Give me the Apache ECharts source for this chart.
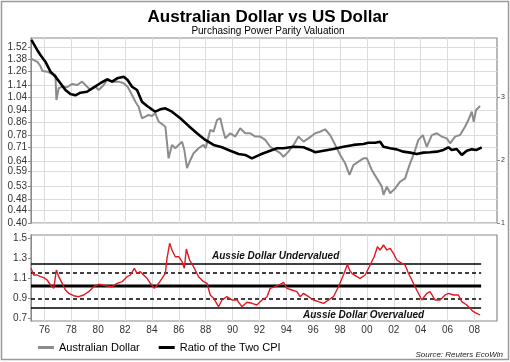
<!DOCTYPE html>
<html><head><meta charset="utf-8">
<script src="https://cdn.jsdelivr.net/npm/echarts@6/dist/echarts.min.js"></script>
<style>html,body{margin:0;padding:0;background:#fff}#c{width:510px;height:362px}</style>
</head><body><div id="c"></div>
<script>
// ---- axis ticks ----
const yearTicks = [1976,1978,1980,1982,1984,1986,1988,1990,1992,1994,1996,1998,2000,2002,2004,2006,2008];
const yearLabels = ['76','78','80','82','84','86','88','90','92','94','96','98','00','02','04','06','08'];
const topTickLabels = ['0.40','0.44','0.48','0.53','0.59','0.64','0.71','0.78','0.86','0.94','1.04','1.14','1.26','1.38','1.52'];
const rightTickLabels = ['1','2','3'];
const bottomTickLabels = ['0.7','0.9','1.1','1.3','1.5'];

// ---- Australian Dollar (USD per AUD) ----
const audYears = [1975.03,1975.48,1975.70,1975.85,1976.22,1976.45,1976.82,1976.89,1977.06,1977.32,1977.69,1978.06,1978.43,1978.80,1979.05,1979.42,1979.79,1980.04,1980.41,1980.66,1981.03,1981.52,1981.90,1982.19,1982.52,1982.77,1983.01,1983.26,1983.51,1983.75,1984.01,1984.25,1984.50,1984.75,1985.00,1985.24,1985.49,1985.74,1985.99,1986.24,1986.41,1986.61,1986.86,1987.10,1987.47,1987.84,1988.00,1988.34,1988.59,1988.84,1989.09,1989.29,1989.46,1989.83,1990.20,1990.57,1990.94,1991.32,1991.69,1992.06,1992.43,1992.80,1993.17,1993.55,1993.79,1994.16,1994.54,1994.91,1995.28,1995.65,1996.15,1996.52,1996.89,1997.26,1997.64,1998.01,1998.38,1998.70,1999.00,1999.37,1999.74,2000.00,2000.36,2000.74,2001.11,2001.23,2001.48,2001.73,2002.10,2002.47,2002.84,2003.21,2003.51,2003.83,2004.16,2004.45,2004.83,2005.20,2005.57,2005.94,2006.19,2006.56,2006.93,2007.30,2007.55,2007.80,2007.95,2008.12,2008.42];
const audValues = [1.387,1.356,1.315,1.266,1.260,1.244,1.229,1.016,1.111,1.124,1.119,1.148,1.139,1.168,1.139,1.096,1.124,1.096,1.139,1.183,1.168,1.168,1.154,1.124,1.056,1.003,0.966,0.885,0.896,0.907,0.900,0.919,0.862,0.847,0.830,0.653,0.723,0.705,0.723,0.741,0.696,0.606,0.645,0.679,0.705,0.723,0.705,0.810,0.800,0.873,0.885,0.810,0.760,0.790,0.770,0.820,0.790,0.790,0.770,0.770,0.751,0.713,0.696,0.679,0.661,0.687,0.723,0.770,0.741,0.760,0.790,0.799,0.814,0.779,0.723,0.670,0.629,0.576,0.621,0.637,0.653,0.653,0.598,0.561,0.527,0.495,0.527,0.501,0.520,0.547,0.561,0.629,0.679,0.751,0.779,0.713,0.779,0.790,0.770,0.760,0.732,0.770,0.779,0.830,0.873,0.930,0.862,0.942,0.971];

// ---- Ratio of the two CPI (PPP) ----
const cpiYears = [1975.03,1975.46,1975.70,1976.07,1976.45,1976.82,1977.19,1977.56,1977.93,1978.30,1978.68,1979.17,1979.67,1980.16,1980.66,1981.03,1981.41,1981.90,1982.19,1982.52,1982.89,1983.26,1983.64,1984.25,1984.62,1985.00,1985.49,1986.11,1986.73,1987.35,1987.97,1988.59,1989.21,1989.83,1990.45,1990.94,1991.44,1992.06,1992.30,1992.80,1993.30,1993.79,1994.54,1995.28,1995.78,1996.15,1996.77,1997.51,1998.25,1999.00,1999.74,2000.11,2000.61,2000.98,2001.23,2001.73,2002.22,2002.71,2003.21,2003.71,2004.20,2004.70,2005.20,2005.69,2006.06,2006.31,2006.68,2007.06,2007.43,2007.80,2008.17,2008.54];
const cpiValues = [1.602,1.485,1.430,1.359,1.260,1.213,1.154,1.096,1.064,1.053,1.074,1.082,1.119,1.154,1.189,1.168,1.198,1.213,1.183,1.124,1.096,1.003,0.971,0.930,0.947,0.954,0.930,0.885,0.835,0.790,0.751,0.723,0.710,0.692,0.675,0.670,0.653,0.672,0.679,0.692,0.705,0.705,0.713,0.710,0.696,0.684,0.692,0.701,0.713,0.723,0.728,0.735,0.735,0.741,0.713,0.705,0.699,0.687,0.682,0.675,0.682,0.684,0.687,0.696,0.710,0.696,0.701,0.670,0.692,0.699,0.696,0.710];

// ---- PPP / AUD valuation ratio ----
const ratioYears = [1975.00,1975.20,1975.45,1975.70,1975.95,1976.20,1976.45,1976.69,1976.80,1976.89,1977.06,1977.32,1977.56,1977.81,1978.18,1978.55,1978.92,1979.29,1979.67,1980.04,1980.35,1980.66,1981.03,1981.41,1981.78,1982.15,1982.40,1982.69,1982.89,1983.14,1983.38,1983.64,1983.88,1984.18,1984.50,1984.75,1985.00,1985.12,1985.32,1985.49,1985.74,1986.00,1986.24,1986.41,1986.56,1986.80,1987.10,1987.47,1987.84,1988.10,1988.34,1988.59,1988.96,1989.21,1989.58,1989.96,1990.33,1990.70,1991.07,1991.44,1991.81,1992.19,1992.56,1992.80,1993.17,1993.55,1993.79,1994.04,1994.42,1994.79,1995.03,1995.28,1995.65,1996.02,1996.39,1996.77,1997.14,1997.51,1997.88,1998.25,1998.55,1998.70,1998.88,1999.25,1999.49,1999.87,2000.24,2000.54,2000.78,2000.98,2001.23,2001.48,2001.73,2001.97,2002.22,2002.60,2002.84,2003.09,2003.34,2003.58,2003.83,2004.08,2004.20,2004.45,2004.70,2005.07,2005.44,2005.82,2006.06,2006.43,2006.81,2007.06,2007.43,2007.67,2007.92,2008.17,2008.42];
const ratioValues = [1.197,1.130,1.130,1.113,1.103,1.080,1.030,0.997,1.010,1.180,1.113,1.047,0.980,0.947,0.923,0.913,0.930,0.963,1.013,1.037,1.030,1.020,1.013,1.047,1.063,1.113,1.130,1.197,1.147,1.163,1.130,1.097,1.047,0.997,1.047,1.097,1.147,1.297,1.447,1.380,1.313,1.313,1.263,1.197,1.390,1.280,1.213,1.113,1.063,1.047,0.930,0.897,0.813,0.880,0.913,0.880,0.880,0.813,0.857,0.847,0.830,0.880,0.910,0.997,1.013,1.037,1.057,0.997,0.980,0.963,0.913,0.947,0.913,0.880,0.863,0.847,0.880,0.913,1.013,1.130,1.237,1.180,1.147,1.113,1.097,1.130,1.230,1.313,1.413,1.380,1.430,1.380,1.397,1.347,1.280,1.247,1.230,1.147,1.080,1.013,0.947,0.880,0.863,0.947,0.963,0.880,0.880,0.930,0.947,0.930,0.930,0.863,0.830,0.797,0.763,0.747,0.730];

// ---- valuation bands ----
const bandSpan = [1975.0, 2008.5];
const upperSolid = 1.24, upperDashed = 1.15, meanLevel = 1.02, lowerDashed = 0.89, lowerSolid = 0.80;

const zip = (xs, ys) => xs.map((x, i) => [x, ys[i]]);
const flat = v => bandSpan.map(x => [x, v]);
const FONT = 'Liberation Sans, Arial, sans-serif';

const chart = echarts.init(document.getElementById('c'), null, {renderer: 'canvas'});
const xCommon = {
  type: 'value', min: 1975, max: 2009.68,
  axisLine: {show: false},
  splitLine: {show: true, lineStyle: {color: '#dcdcdc', width: 1}},
};
chart.setOption({
  animation: false,
  backgroundColor: '#fff',
  title: [
    {text: 'Australian Dollar vs US Dollar', left: 263, top: 4, textAlign: 'center',
     textStyle: {fontFamily: FONT, fontSize: 17, fontWeight: 'bold', color: '#000'}},
    {text: 'Purchasing Power Parity Valuation', left: 263, top: 21, textAlign: 'center',
     textStyle: {fontFamily: FONT, fontSize: 10, fontWeight: 'normal', color: '#000'}}
  ],
  grid: [
    {left: 31, top: 38, width: 466, height: 185, show: true, borderColor: '#8a8a8a', borderWidth: 1.2},
    {left: 31, top: 235, width: 466, height: 86, show: true, borderColor: '#8a8a8a', borderWidth: 1.2}
  ],
  legend: {
    left: 33, top: 337, itemWidth: 16, itemHeight: 3, itemGap: 19, icon: 'rect',
    textStyle: {fontFamily: FONT, fontSize: 11, color: '#000'},
    data: ['Australian Dollar', 'Ratio of the Two CPI']
  },
  xAxis: [
    Object.assign({}, xCommon, {gridIndex: 0,
      axisTick: {show: false, customValues: yearTicks},
      axisLabel: {show: false, customValues: yearTicks}}),
    Object.assign({}, xCommon, {gridIndex: 1,
      axisTick: {show: false, customValues: yearTicks},
      axisLabel: {show: true, customValues: yearTicks, margin: 4,
        fontFamily: FONT, fontSize: 10, color: '#333',
        formatter: v => yearLabels[yearTicks.indexOf(Math.round(v))]}})
  ],
  yAxis: [
    {type: 'log', gridIndex: 0, min: 0.40, max: 1.626, position: 'left',
     axisLine: {show: true, lineStyle: {color: '#8a8a8a'}},
     axisTick: {show: true, length: 3, customValues: topTickLabels.map(Number), lineStyle: {color: '#8a8a8a'}},
     axisLabel: {customValues: topTickLabels.map(Number), margin: 4, fontFamily: FONT, fontSize: 10, color: '#333',
       formatter: v => topTickLabels[topTickLabels.map(Number).indexOf(v)] || v.toFixed(2)},
     splitLine: {show: true, lineStyle: {color: '#dcdcdc'}}},
    {type: 'value', gridIndex: 0, min: 1, max: 3.94, position: 'right',
     axisLine: {show: false},
     axisTick: {show: true, length: 3, customValues: rightTickLabels.map(Number), lineStyle: {color: '#8a8a8a'}},
     axisLabel: {customValues: rightTickLabels.map(Number), margin: 4, fontFamily: FONT, fontSize: 7, color: '#333'},
     splitLine: {show: false}},
    {type: 'value', gridIndex: 1, min: 0.67, max: 1.53, position: 'left',
     axisLine: {show: true, lineStyle: {color: '#8a8a8a'}},
     axisTick: {show: true, length: 3, customValues: bottomTickLabels.map(Number), lineStyle: {color: '#8a8a8a'}},
     axisLabel: {customValues: bottomTickLabels.map(Number), margin: 4, fontFamily: FONT, fontSize: 10, color: '#333',
       formatter: v => v.toFixed(1)},
     splitLine: {show: false}}
  ],
  graphic: [
    {type: 'rect', shape: {x: 1.5, y: 1.5, width: 507, height: 358}, style: {fill: 'none', stroke: '#9a9a9a', lineWidth: 1.5}, silent: true},
    {type: 'text', left: 212, top: 251, z: 10, style: {text: 'Aussie Dollar Undervalued', font: 'italic bold 10px ' + FONT, fill: '#111'}},
    {type: 'text', left: 303, top: 310, z: 10, style: {text: 'Aussie Dollar Overvalued', font: 'italic bold 10px ' + FONT, fill: '#111'}},
    {type: 'text', right: 7, top: 351, style: {text: 'Source: Reuters EcoWin', font: 'italic 8px ' + FONT, fill: '#222'}}
  ],
  series: [
    {name: 'Australian Dollar', type: 'line', xAxisIndex: 0, yAxisIndex: 0, symbol: 'none',
     lineStyle: {color: '#8c8c8c', width: 2}, itemStyle: {color: '#8c8c8c'}, data: zip(audYears, audValues), z: 3},
    {name: 'Ratio of the Two CPI', type: 'line', xAxisIndex: 0, yAxisIndex: 0, symbol: 'none',
     lineStyle: {color: '#000', width: 2.6}, itemStyle: {color: '#000'}, data: zip(cpiYears, cpiValues), z: 4},
    {name: 'upperSolid', type: 'line', xAxisIndex: 1, yAxisIndex: 2, symbol: 'none', lineStyle: {color: '#000', width: 1.5}, data: flat(upperSolid)},
    {name: 'upperDashed', type: 'line', xAxisIndex: 1, yAxisIndex: 2, symbol: 'none', lineStyle: {color: '#000', width: 1.5, type: [4, 3]}, data: flat(upperDashed)},
    {name: 'mean', type: 'line', xAxisIndex: 1, yAxisIndex: 2, symbol: 'none', lineStyle: {color: '#000', width: 3}, data: flat(meanLevel)},
    {name: 'lowerDashed', type: 'line', xAxisIndex: 1, yAxisIndex: 2, symbol: 'none', lineStyle: {color: '#000', width: 1.5, type: [4, 3]}, data: flat(lowerDashed)},
    {name: 'lowerSolid', type: 'line', xAxisIndex: 1, yAxisIndex: 2, symbol: 'none', lineStyle: {color: '#000', width: 1.5}, data: flat(lowerSolid)},
    {name: 'Valuation', type: 'line', xAxisIndex: 1, yAxisIndex: 2, symbol: 'none',
     lineStyle: {color: '#e3171f', width: 1.4}, data: zip(ratioYears, ratioValues), z: 5}
  ]
});
</script></body></html>
